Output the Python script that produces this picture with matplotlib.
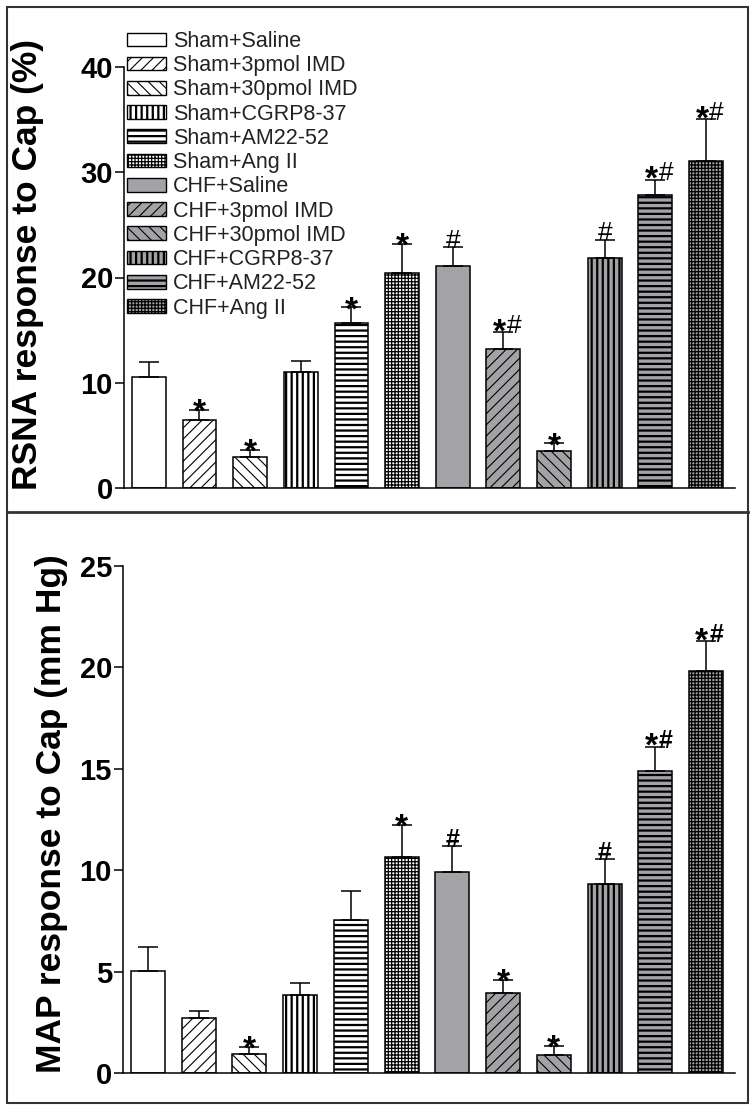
import matplotlib
matplotlib.use('Agg')
import matplotlib.pyplot as plt
from matplotlib.patches import Patch, Rectangle
from matplotlib.lines import Line2D
import numpy as np

plt.rcParams['font.family'] = ['Liberation Sans', 'DejaVu Sans']

groups = ['Sham+Saline', 'Sham+3pmol IMD', 'Sham+30pmol IMD', 'Sham+CGRP8-37',
          'Sham+AM22-52', 'Sham+Ang II', 'CHF+Saline', 'CHF+3pmol IMD',
          'CHF+30pmol IMD', 'CHF+CGRP8-37', 'CHF+AM22-52', 'CHF+Ang II']

# RSNA response to Cap (%)
rsna_mean = [10.5, 6.5, 2.9, 11.0, 15.7, 20.4, 21.1, 13.2, 3.5, 21.9, 27.8, 31.1]
rsna_sem = [1.5, 0.9, 0.75, 1.1, 1.45, 2.8, 1.8, 1.6, 0.75, 1.7, 1.5, 3.95]
rsna_sig = ['', '*', '*', '', '*', '*', '#', '*#', '*', '#', '*#', '*#']

# MAP response to Cap (mm Hg)
map_mean = [5.05, 2.7, 0.97, 3.85, 7.57, 10.63, 9.9, 3.97, 0.92, 9.34, 14.88, 19.83]
map_sem = [1.17, 0.38, 0.33, 0.61, 1.43, 1.61, 1.29, 0.64, 0.44, 1.21, 1.19, 1.44]
map_sig = ['', '', '*', '', '', '*', '#', '*', '*', '#', '*#', '*#']

# look of the groups (sham = white, chf = grey, same hatch per treatment)
# hatch density: every char = 6 lines per inch (100 px here)
fills = ['white'] * 6 + ['#a3a3a7'] * 6
hatches = ['', '///', '\\\\\\', '|||', '---', '+++++'] * 2
hatch_lw = [1.0, 0.8, 0.8, 1.6, 1.6, 0.9] * 2

W, H = 755, 1111
fig = plt.figure(figsize=(W / 100, H / 100), dpi=100)


def set_hatch(p, h, lw):
    if not h:
        return
    p.set_hatch(h)
    if hasattr(p, 'set_hatch_linewidth'):
        p.set_hatch_linewidth(lw)


def mark(ax, x, y, t, weight, hash_size):
    # star and hash drawn apart so the star can be bigger (like the original)
    both = len(t) > 1
    if '*' in t:
        ax.annotate('*', (x, y), xytext=(-3 if both else 0, -6.5 if both else -8.6),
                    textcoords='offset points', ha='center', va='baseline',
                    fontsize=24, fontweight='bold')
    if '#' in t:
        ax.annotate('#', (x, y), xytext=(7.5 if both else 0, -0.5),
                    textcoords='offset points', ha='center', va='baseline',
                    fontsize=hash_size, fontweight=weight)


def panel(rect, mean, sem, sig, ymax, step, weight, hash_size):
    ax = fig.add_axes(rect)
    x = np.arange(len(mean))
    bars = ax.bar(x, mean, width=0.67, color=fills, edgecolor='black',
                  linewidth=1.1, zorder=2)
    for b, h, lw in zip(bars, hatches, hatch_lw):
        set_hatch(b, h, lw)
    ax.errorbar(x, mean, yerr=[np.zeros(len(sem)), sem], fmt='none',
                ecolor='black', elinewidth=1.1, capsize=7.2, capthick=1.1,
                zorder=3)
    for xi, m, s, t in zip(x, mean, sem, sig):
        if t:
            mark(ax, xi, m + s, t, weight, hash_size)
    ax.set_xlim(-0.49, 11.57)
    ax.set_ylim(0, ymax)
    ax.set_yticks(np.arange(0, ymax + 1, step))
    ax.set_xticks([])
    for sp in ['top', 'right']:
        ax.spines[sp].set_visible(False)
    for sp in ['left', 'bottom']:
        ax.spines[sp].set_linewidth(1.1)
    ax.tick_params(axis='y', length=6.5, width=1.1, pad=1.5, labelsize=21)
    for lab in ax.get_yticklabels():
        lab.set_fontweight('bold')
    return ax


ax1 = panel([124 / W, 1 - 488 / H, 611 / W, 421 / H],
            rsna_mean, rsna_sem, rsna_sig, 40, 10, 'normal', 19)
ax2 = panel([123 / W, 1 - 1073.3 / H, 612 / W, 507.6 / H],
            map_mean, map_sem, map_sig, 25, 5, 'bold', 18)

fig.text(28 / W, 1 - 265 / H, 'RSNA response to Cap (%)', rotation=90,
         ha='center', va='center', fontsize=25.5, fontweight='bold')
fig.text(52 / W, 1 - 814 / H, 'MAP response to Cap (mm Hg)', rotation=90,
         ha='center', va='center', fontsize=25.5, fontweight='bold')

# legend
handles = []
for g, f in zip(groups, fills):
    handles.append(Patch(facecolor=f, edgecolor='black', linewidth=1.0, label=g))
leg = ax1.legend(handles=handles, loc='upper left',
                 bbox_to_anchor=(127 / W, 1 - 31 / H),
                 bbox_transform=fig.transFigure, frameon=False, fontsize=15.5,
                 handlelength=1.8, handleheight=0.6, handletextpad=0.35,
                 labelspacing=0.15, borderpad=0, borderaxespad=0)
for p, h, lw in zip(leg.get_patches(), hatches, hatch_lw):
    set_hatch(p, h, lw)
for t in leg.get_texts():
    t.set_color('#222222')

# frame around the two panels
fig.add_artist(Rectangle((7 / W, 1 - 1103 / H), 741 / W, 1096 / H,
                         transform=fig.transFigure, fill=False,
                         edgecolor='#333333', linewidth=1.5))
fig.add_artist(Line2D([7 / W, 748 / W], [1 - 512 / H, 1 - 512 / H],
                      transform=fig.transFigure, color='#333333', linewidth=2))

fig.savefig('out.png', dpi=100)
